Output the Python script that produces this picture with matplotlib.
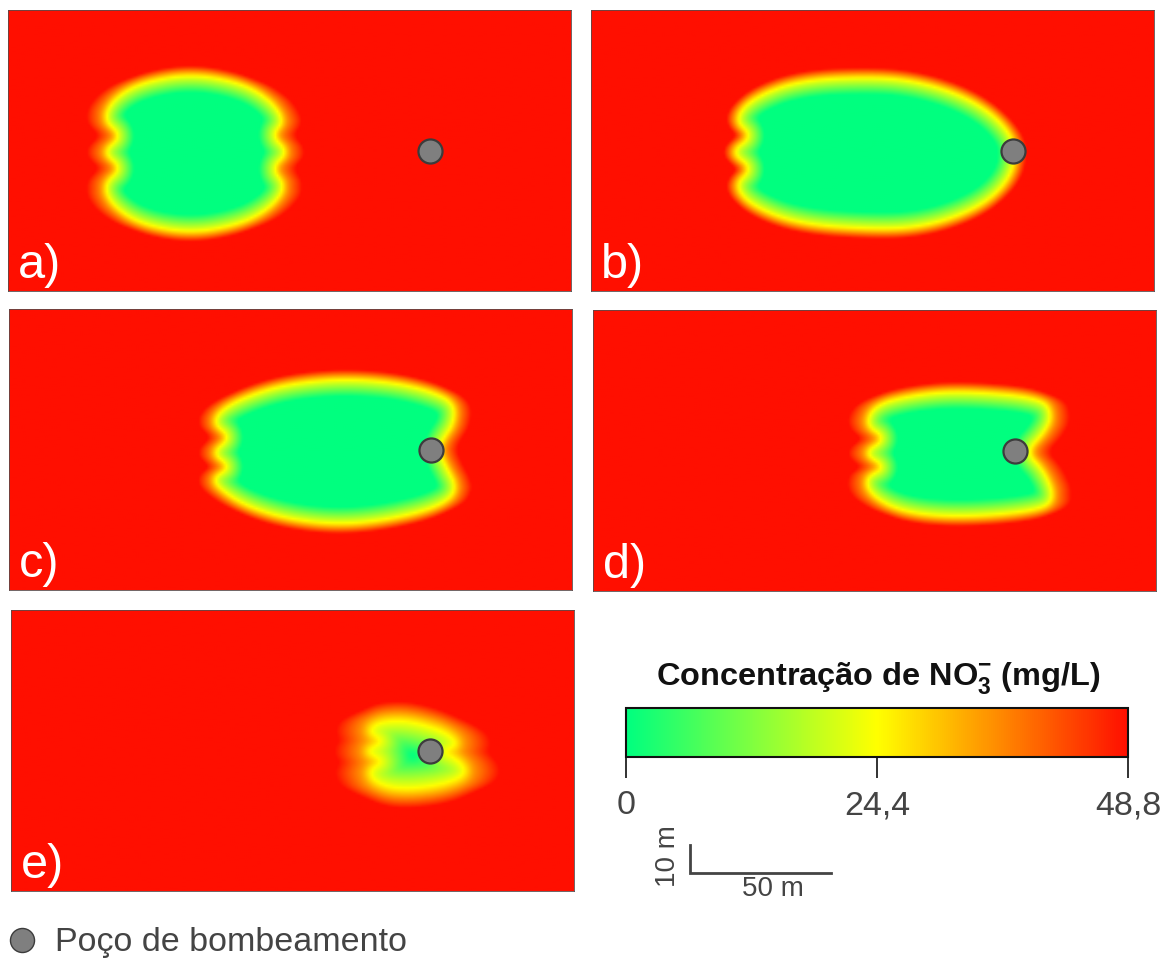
import numpy as np
import matplotlib
matplotlib.use('Agg')
import matplotlib.pyplot as plt
from matplotlib.cm import ScalarMappable
from matplotlib.colors import LinearSegmentedColormap, Normalize
from matplotlib.path import Path

plt.rcParams['font.family'] = ['Liberation Sans', 'DejaVu Sans']
plt.rcParams['mathtext.fontset'] = 'custom'
plt.rcParams['mathtext.rm'] = 'Liberation Sans'
plt.rcParams['mathtext.bf'] = 'Liberation Sans:bold'

WIDTH, HEIGHT = 1169, 959
PX_PER_M = 2.815

# plume outlines (the 24.4 mg/L contour), metres from the panel's top left corner
outline_a = [(64.7, 22.4), (82.4, 25.5), (93.0, 31.5), (98.5, 39.5), (93.5, 44.5), (100.0, 50.5), (93.5, 56.2),
             (99.0, 62.6), (93.5, 70.5), (82.4, 76.5), (64.7, 79.6), (46.9, 76.5), (36.5, 69.5), (33.5, 61.9),
             (40.5, 56.2), (33.0, 50.5), (40.5, 44.8), (33.5, 39.1), (37.0, 31.5), (46.9, 25.5)]
outline_b = [(102.7, 23.5), (118.0, 25.6), (132.0, 30.2), (142.8, 36.7), (149.6, 44.5), (151.0, 50.5), (149.6, 58.7),
             (142.8, 66.9), (132.0, 73.0), (118.0, 77.2), (102.7, 78.3), (74.4, 76.5), (57.0, 70.0), (50.5, 62.3),
             (57.5, 56.2), (49.0, 50.5), (57.5, 44.8), (50.5, 39.1), (57.0, 31.0), (74.4, 24.5)]
outline_c = [(117.6, 24.6), (135.3, 25.6), (149.6, 28.8), (158.5, 33.1), (158.4, 40.6), (154.2, 46.6), (153.0, 50.2),
             (154.9, 54.8), (160.0, 64.4), (153.1, 70.5), (135.3, 75.1), (117.6, 76.9), (99.8, 75.1), (84.5, 70.5),
             (75.0, 64.4), (72.0, 60.1), (79.0, 56.2), (71.5, 51.2), (79.0, 45.6), (72.0, 40.6), (76.0, 34.9),
             (86.7, 29.9), (99.8, 26.3)]
outline_d = [(131.4, 28.5), (160.0, 31.0), (163.5, 37.4), (160.5, 43.8), (154.0, 50.5), (160.5, 56.9), (164.5, 67.0),
             (159.0, 71.5), (131.4, 74.0), (110.1, 72.2), (98.5, 66.0), (96.5, 59.4), (104.5, 55.9), (95.5, 50.9),
             (104.5, 45.6), (96.5, 41.0), (100.0, 33.5), (113.7, 29.9)]
outline_e = [(138.2, 39.0), (146.4, 40.5), (155.0, 43.5), (159.5, 48.0), (153.0, 50.2), (159.5, 53.4), (162.5, 58.5),
             (153.0, 62.5), (138.2, 64.0), (129.5, 61.5), (127.0, 57.0), (133.0, 53.7), (125.5, 50.2), (133.0, 46.6),
             (127.0, 43.4), (130.0, 40.0)]

panel_names = ['a)', 'b)', 'c)', 'd)', 'e)']
panel_outlines = [outline_a, outline_b, outline_c, outline_d, outline_e]
# how many metres the colour takes to go from yellow to green / yellow to red
fade_inside = [6, 6, 6, 6, 11]
fade_outside = [3.5, 3.5, 3.5, 3.5, 7]
fade_sideways = [6, 3, 5, 6, 10]
well_x = [150, 150, 150, 150, 149]
well_y = [50, 50, 50, 50, 50]

# left, top of each panel in pixels
panel_left = [8, 591, 9, 593, 11]
panel_top = [10, 10, 309, 310, 610]
panel_w, panel_h = 563, 281

scale_ticks = [0, 24.4, 48.8]
scale_labels = ['0', '24,4', '48,8']
scale_colors = ['#00ff7f', '#ffff00', '#ff0f00']

cmap = LinearSegmentedColormap.from_list('no3', scale_colors)
norm = Normalize(scale_ticks[0], scale_ticks[-1])


def add_axes_px(fig, left, top, w, h):
    return fig.add_axes([left / WIDTH, 1 - (top + h) / HEIGHT, w / WIDTH, h / HEIGHT])


def round_corners(outline, passes=3):
    pts = np.array(outline, dtype=float)
    for _ in range(passes):
        nxt = np.roll(pts, -1, axis=0)
        pts = np.c_[0.75 * pts + 0.25 * nxt, 0.25 * pts + 0.75 * nxt].reshape(-1, 2)
    return np.vstack([pts, pts[:1]])


def concentration_field(outline, inside, outside, sideways, x, y):
    # signed distance to the outline, turned into mg/L on each side of the contour
    pts = round_corners(outline)
    xx, yy = np.meshgrid(x, y)
    dist = np.full(xx.shape, np.inf)
    for p, q in zip(pts[:-1], pts[1:]):
        d = q - p
        t = np.clip(((xx - p[0]) * d[0] + (yy - p[1]) * d[1]) / (d @ d), 0, 1)
        dist = np.minimum(dist, np.hypot(xx - p[0] - t * d[0], yy - p[1] - t * d[1]))
    mask = Path(pts).contains_points(np.c_[xx.ravel(), yy.ravel()]).reshape(xx.shape)
    mid = scale_ticks[1]
    field = np.where(mask, mid - dist / inside * mid, mid + dist / outside * mid)
    field = np.clip(field, scale_ticks[0] - 6, scale_ticks[-1] + 6)

    # the orange glow smears further left and right than up and down, the yellow edge stays thin
    glow = mid + 10
    dx = x[1] - x[0]
    base = np.maximum(field, glow)
    smear = base.copy()
    for s in range(1, int(sideways * 1.4 / dx)):
        step = s * dx / sideways * (scale_ticks[-1] - glow)
        smear = np.minimum(smear, np.roll(base, s, axis=1) + step)
        smear = np.minimum(smear, np.roll(base, -s, axis=1) + step)
    field = np.where(field < glow, field, smear)

    # soften the creases left by the distance field
    kernel = np.exp(-np.linspace(-2, 2, 9) ** 2)
    kernel /= kernel.sum()
    field = np.apply_along_axis(lambda r: np.convolve(r, kernel, mode='same'), 0, np.pad(field, 4, mode='edge'))
    field = np.apply_along_axis(lambda r: np.convolve(r, kernel, mode='same'), 1, field)
    return field[4:-4, 4:-4]


def draw_panel(fig, i):
    ax = add_axes_px(fig, panel_left[i], panel_top[i], panel_w, panel_h)
    x_max, y_max = panel_w / PX_PER_M, panel_h / PX_PER_M
    x = np.linspace(0, x_max, panel_w // 2)
    y = np.linspace(0, y_max, panel_h // 2)
    field = concentration_field(panel_outlines[i], fade_inside[i], fade_outside[i], fade_sideways[i], x, y)
    ax.imshow(field, extent=[0, x_max, y_max, 0], cmap=cmap, norm=norm, aspect='auto', interpolation='bilinear')
    ax.scatter([well_x[i]], [well_y[i]], s=300, c='#7f7f7f', edgecolors='#3c3c3c', linewidths=1.6, zorder=3)
    ax.set_xticks([])
    ax.set_yticks([])
    for spine in ax.spines.values():
        spine.set_linewidth(0.6)
        spine.set_color('#5a4a4a')
    ax.text(0.018, 0.012, panel_names[i], transform=ax.transAxes, color='white', fontsize=35, ha='left', va='bottom')


def draw_scale(fig):
    cax = add_axes_px(fig, 626, 708, 502, 49)
    cb = fig.colorbar(ScalarMappable(norm=norm, cmap=cmap), cax=cax, orientation='horizontal', ticks=scale_ticks)
    cb.ax.set_xticklabels(scale_labels)
    cb.ax.tick_params(length=15, width=1.3, color='#222222', labelcolor='#444444', labelsize=24.5, pad=9)
    cb.outline.set_linewidth(1.5)
    cb.outline.set_edgecolor('#111111')
    fig.text(878 / WIDTH, 1 - 678 / HEIGHT, 'Concentração de NO$_{\\mathbf{3}}^{\\mathbf{-}}$ (mg/L)',
             fontsize=23.4, fontweight='bold', color='#111111', ha='center', va='center')


def draw_notes(fig):
    page = fig.add_axes([0, 0, 1, 1], facecolor='none')
    page.set_xlim(0, WIDTH)
    page.set_ylim(HEIGHT, 0)
    page.axis('off')
    bar_x, bar_y = 690, 873
    page.plot([bar_x, bar_x, bar_x + 50 * PX_PER_M], [bar_y - 10 * PX_PER_M, bar_y, bar_y],
              color='#444444', lw=2, solid_joinstyle='miter')
    page.text(668, 856, '10 m', rotation=90, fontsize=20, color='#444444', ha='center', va='center')
    page.text(773, 889, '50 m', fontsize=20, color='#444444', ha='center', va='center')
    page.scatter([22], [940], s=300, c='#7f7f7f', edgecolors='#3c3c3c', linewidths=1)
    page.text(55, 942, 'Poço de bombeamento', fontsize=24.5, color='#444444', ha='left', va='center')


def main():
    fig = plt.figure(figsize=(WIDTH / 100, HEIGHT / 100), dpi=100, facecolor='white')
    for i in range(len(panel_names)):
        draw_panel(fig, i)
    draw_scale(fig)
    draw_notes(fig)
    fig.savefig('out.png', dpi=100)


if __name__ == '__main__':
    main()
